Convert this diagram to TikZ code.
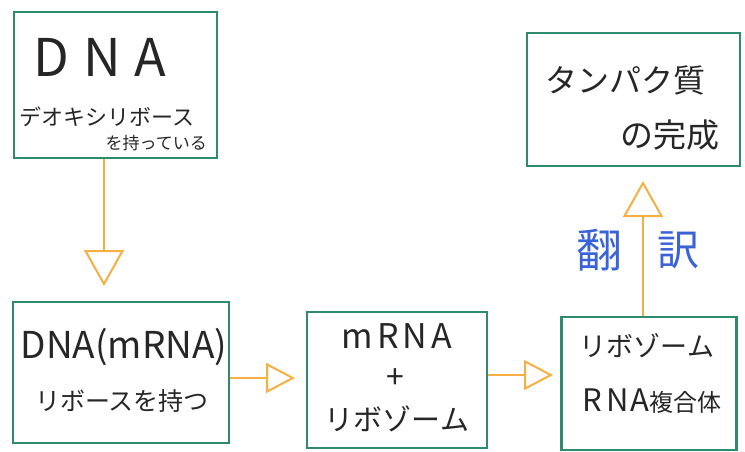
\documentclass[tikz,border=0pt]{standalone}
\usepackage{fontspec}
\setmainfont{Noto Sans CJK JP}
\usetikzlibrary{arrows.meta}
\definecolor{boxgreen}{HTML}{2E8B6E}
\definecolor{arrorange}{HTML}{F5B041}
\definecolor{penblue}{HTML}{3A63D8}
\tikzset{
  box/.style={draw=boxgreen, line width=2.2pt, minimum width=#1, inner sep=0pt},
  txt/.style={inner sep=0pt, text=black!85},
  flowv/.style={draw=arrorange, line width=2pt, -{Triangle[open, length=36pt, width=40pt, line width=2pt]}},
  flowh/.style={draw=arrorange, line width=2pt, -{Triangle[open, length=29pt, width=30pt, line width=2pt]}},
}
\begin{document}
\begin{tikzpicture}[x=1pt, y=-1pt]
\useasboundingbox (0,0) rectangle (745,452);
% boxes
\node[box=203pt, minimum height=146pt] (b1) at (115.5,85) {};
\node[box=216pt, minimum height=141pt] (b2) at (121,372.5) {};
\node[box=180pt, minimum height=136pt] (b3) at (397,380) {};
\node[box=175pt, minimum height=133pt] (b4) at (649,383.5) {};
\node[box=213pt, minimum height=133pt] (b5) at (633.5,99.5) {};
% texts box 1
\node[txt, font=\fontsize{52}{52}\selectfont] (t1a) at (100,57) {D\hspace{14pt}N\hspace{14pt}A};
\node[txt, font=\fontsize{22}{22}\selectfont] (t1b) at (107,117) {デオキシリボース};
\node[txt, font=\fontsize{17}{17}\selectfont, anchor=east] (t1c) at (207,143) {を持っている};
% box 2
\node[txt, font=\fontsize{37}{37}\selectfont] (t2a) at (124,347) {DNA(mRNA)};
\node[txt, font=\fontsize{25}{25}\selectfont] (t2b) at (122,401) {リボースを持つ};
% box 3
\node[txt, font=\fontsize{34}{34}\selectfont, text height=0.8em, text depth=0pt] (t3a) at (397,344) {m\hspace{4pt}R\hspace{4pt}N\hspace{4pt}A};
\node[txt, font=\fontsize{32}{32}\selectfont, text height=0.6em, text depth=0pt] (t3b) at (395,385) {+};
\node[txt, font=\fontsize{29}{29}\selectfont] (t3c) at (397,419) {リボゾーム};
% box 4
\node[txt, font=\fontsize{27}{27}\selectfont] (t4a) at (647,346) {リボゾーム};
\node[txt, font=\fontsize{31}{31}\selectfont] (t4b) at (652,401) {R\hspace{4pt}N\hspace{2pt}A{\fontsize{24}{24}\selectfont 複合体}};
% box 5
\node[txt, font=\fontsize{32}{32}\selectfont] (t5a) at (625,80) {タンパク質};
\node[txt, font=\fontsize{33}{33}\selectfont] (t5b) at (670,135) {の完成};
% translation label
\node[txt, text=penblue, font=\fontsize{46}{46}\selectfont] (l1) at (599,250) {翻};
\node[txt, text=penblue, font=\fontsize{42}{42}\selectfont] (l2) at (678,250) {訳};
% connectors
\coordinate (e1) at (104,286);
\coordinate (e2) at (295,378);
\coordinate (e3) at (553,375);
\coordinate (e4) at (643,181);
\draw[flowv] (b1.south -| e1) -- (e1);
\draw[flowh] (b2.east |- e2) -- (e2);
\draw[flowh] (b3.east |- e3) -- (e3);
\draw[flowv] (b4.north -| e4) -- (e4);
\end{tikzpicture}
\end{document}
